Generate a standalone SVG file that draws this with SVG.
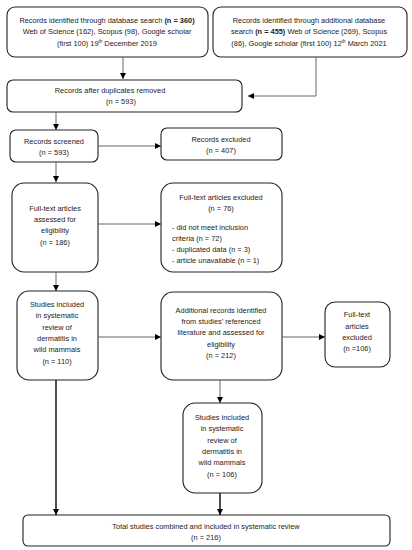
<svg xmlns="http://www.w3.org/2000/svg" width="412" height="550" viewBox="0 0 412 550">
<defs>
<marker id="ah" viewBox="0 0 10 10" refX="10" refY="5" markerWidth="6" markerHeight="6" markerUnits="userSpaceOnUse" orient="auto"><path d="M0,0 L10,5 L0,10 z" fill="#000"/></marker>
<style>
.b{fill:#fff;stroke:#222;stroke-width:1.1}
text{font-family:"Liberation Sans",Arial,sans-serif;font-size:7.4px;fill:#222}
.c{text-anchor:middle}
.l{stroke:#666;stroke-width:1;fill:none}
.t{stroke:#222;stroke-width:1.6;fill:none}
</style>
</defs>
<rect width="412" height="550" fill="#fff"/>
<g id="n1"><rect class="b" x="7" y="7" width="201" height="50" rx="8"/>
<text class="c" x="107" y="23">Records identified through database search <tspan font-weight="bold">(n = 360)</tspan></text>
<text class="c" x="107" y="34">Web of Science (162), Scopus (98), Google scholar</text>
<text class="c" x="107" y="46">(first 100) 19<tspan font-size="4.5" dy="-3">th</tspan><tspan dy="3"> December 2019</tspan></text></g>
<g id="n2"><rect class="b" x="213" y="7" width="194" height="50" rx="8"/>
<text class="c" x="309" y="23">Records identified through additional database</text>
<text class="c" x="309" y="34">search <tspan font-weight="bold">(n = 455)</tspan> Web of Science (269), Scopus</text>
<text class="c" x="309" y="46">(86), Google scholar (first 100) 12<tspan font-size="4.5" dy="-3">th</tspan><tspan dy="3"> March 2021</tspan></text></g>
<g id="n3"><rect class="b" x="7" y="80" width="235" height="32" rx="6"/>
<text class="c" x="110" y="93">Records after duplicates removed</text>
<text class="c" x="121" y="104">(n = 593)</text></g>
<g id="n4"><rect class="b" x="10" y="130" width="88" height="32" rx="6"/>
<text class="c" x="54" y="144">Records screened</text>
<text class="c" x="54" y="155">(n = 593)</text></g>
<g id="n5"><rect class="b" x="161" y="128" width="121" height="32" rx="6"/>
<text class="c" x="221" y="142">Records excluded</text>
<text class="c" x="221" y="153">(n = 407)</text></g>
<g id="n6"><rect class="b" x="12" y="183" width="86" height="89" rx="12"/>
<text class="c" x="55" y="211">Full-text articles</text>
<text class="c" x="55" y="222">assessed for</text>
<text class="c" x="55" y="233">eligibility</text>
<text class="c" x="55" y="245">(n = 186)</text></g>
<g id="n7"><rect class="b" x="161" y="183" width="121" height="89" rx="12"/>
<text class="c" x="221" y="200">Full-text articles excluded</text>
<text class="c" x="221" y="211">(n = 76)</text>
<text x="172" y="230">- did not meet inclusion</text>
<text x="172" y="241">criteria (n = 72)</text>
<text x="172" y="252">- duplicated data (n = 3)</text>
<text x="172" y="263">- article unavailable (n = 1)</text></g>
<g id="n8"><rect class="b" x="17" y="291" width="81" height="89" rx="12"/>
<text class="c" x="57" y="307">Studies included</text>
<text class="c" x="57" y="318">in systematic</text>
<text class="c" x="57" y="330">review of</text>
<text class="c" x="57" y="341">dermatitis in</text>
<text class="c" x="57" y="352">wild mammals</text>
<text class="c" x="57" y="364">(n = 110)</text></g>
<g id="n9"><rect class="b" x="161" y="292" width="121" height="88" rx="12"/>
<text class="c" x="221" y="313">Additional records identified</text>
<text class="c" x="221" y="324">from studies’ referenced</text>
<text class="c" x="221" y="335">literature and assessed for</text>
<text class="c" x="221" y="347">eligibility</text>
<text class="c" x="221" y="358">(n = 212)</text></g>
<g id="n10"><rect class="b" x="325" y="302" width="65" height="65" rx="10"/>
<text class="c" x="357" y="317">Full-text</text>
<text class="c" x="357" y="329">articles</text>
<text class="c" x="357" y="340">excluded</text>
<text class="c" x="357" y="351">(n =106)</text></g>
<g id="n11"><rect class="b" x="183" y="403" width="79" height="90" rx="12"/>
<text class="c" x="222" y="420">Studies included</text>
<text class="c" x="222" y="431">in systematic</text>
<text class="c" x="222" y="443">review of</text>
<text class="c" x="222" y="454">dermatitis in</text>
<text class="c" x="222" y="465">wild mammals</text>
<text class="c" x="222" y="477">(n = 106)</text></g>
<g id="n12"><rect class="b" x="23" y="515" width="367" height="31" rx="5"/>
<text class="c" x="206" y="529">Total studies combined and included in systematic review</text>
<text class="c" x="206" y="540">(n = 216)</text></g>
<g id="connectors">
<line class="l" x1="123" y1="57" x2="123" y2="79" marker-end="url(#ah)"/>
<polyline class="l" points="316,57 316,96 248,96" marker-end="url(#ah)"/>
<line class="l" x1="56" y1="112" x2="56" y2="130" marker-end="url(#ah)"/>
<line class="l" x1="98" y1="146" x2="161" y2="146" marker-end="url(#ah)"/>
<line class="l" x1="56" y1="162" x2="56" y2="182" marker-end="url(#ah)"/>
<line class="l" x1="98" y1="224" x2="161" y2="224" marker-end="url(#ah)"/>
<line class="l" x1="56" y1="272" x2="56" y2="291" marker-end="url(#ah)"/>
<line class="l" x1="98" y1="337" x2="161" y2="337" marker-end="url(#ah)"/>
<line class="l" x1="282" y1="337" x2="325" y2="337" marker-end="url(#ah)"/>
<line class="l" x1="220" y1="380" x2="220" y2="403" marker-end="url(#ah)"/>
<line class="t" x1="56" y1="380" x2="56" y2="515" marker-end="url(#ah)"/>
<line class="t" x1="220" y1="493" x2="220" y2="515" marker-end="url(#ah)"/>
</g>
</svg>
